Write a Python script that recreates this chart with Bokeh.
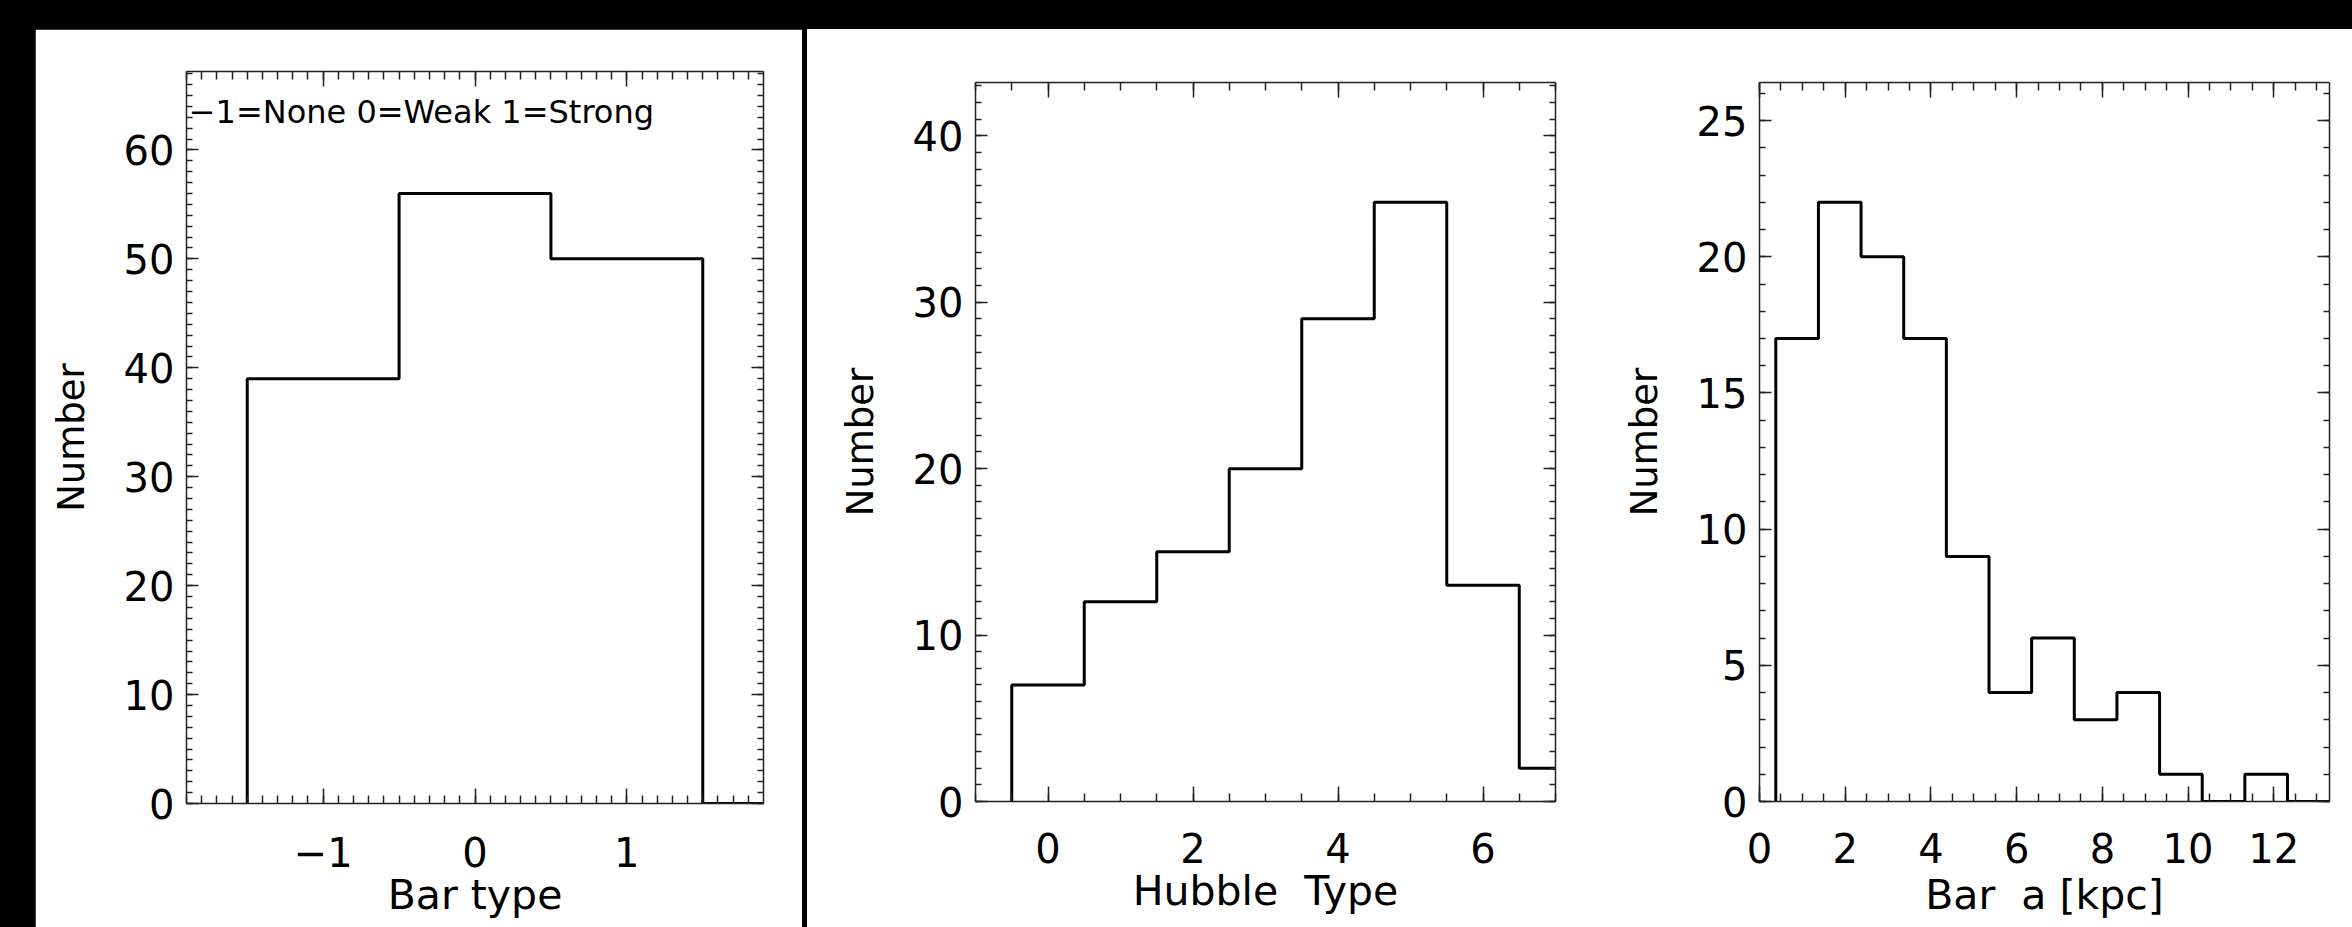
import numpy as np
from bokeh.plotting import figure
from bokeh.models import FixedTicker, LinearAxis, Range1d, Label
from bokeh.layouts import row
from bokeh.embed import file_html
from bokeh.resources import INLINE

# ---------------- data ----------------
# Panel 1: bar type histogram (-1=None, 0=Weak, 1=Strong)
bar_type_centers = [-1, 0, 1, 2]
bar_type_counts = [39, 56, 50, 0]
bar_type_binsize = 1.0

# Panel 2: Hubble type histogram
hubble_centers = [0, 1, 2, 3, 4, 5, 6, 7]
hubble_counts = [7, 12, 15, 20, 29, 36, 13, 2]
hubble_binsize = 1.0

# Panel 3: bar semi-major axis [kpc] histogram
bar_a_first_edge = 0.38
bar_a_binsize = 0.995
bar_a_counts = [17, 22, 20, 17, 9, 4, 6, 3, 4, 1, 0, 1, 0]

# axis ranges and ticks
p1_xrange = (-1.9, 1.9)
p1_yrange = (0, 67.2)
p1_xmajor = [-1, 0, 1]
p1_ymajor = [0, 10, 20, 30, 40, 50, 60]

p2_xrange = (-1.0, 7.0)
p2_yrange = (0, 43.2)
p2_xmajor = [0, 2, 4, 6]
p2_ymajor = [0, 10, 20, 30, 40]

p3_xrange = (0.0, 13.3)
p3_yrange = (0, 26.4)
p3_xmajor = [0, 2, 4, 6, 8, 10, 12]
p3_ymajor = [0, 5, 10, 15, 20, 25]

FONT = "DejaVu Sans"
NB = "\u00a0"


def outline(edges, counts):
    xs = [edges[0]]
    ys = [0]
    for i, c in enumerate(counts):
        xs += [edges[i], edges[i + 1]]
        ys += [c, c]
    return xs, ys


def minor(rng, step):
    return list(np.arange(rng[0] - step, rng[1] + step, step))


def style_axis(ax, horizontal, labels=True):
    ax.axis_line_color = "#222222"
    ax.axis_line_width = 1.5
    ax.major_tick_line_color = "#222222"
    ax.minor_tick_line_color = "#222222"
    ax.major_tick_line_width = 1.5
    ax.minor_tick_line_width = 1.5
    ax.major_tick_out = 0
    ax.minor_tick_out = 0
    if horizontal:
        ax.major_tick_in = 15
        ax.minor_tick_in = 8
    else:
        ax.major_tick_in = 12
        ax.minor_tick_in = 6
    ax.axis_label_text_font = FONT
    ax.axis_label_text_font_style = "normal"
    ax.axis_label_text_color = "black"
    ax.major_label_text_font = FONT
    if labels:
        ax.major_label_text_color = "black"
        ax.major_label_text_font_size = "40px"
        ax.axis_label_text_font_size = "41px" if horizontal else "37px"
    else:
        ax.major_label_text_color = None
        ax.major_label_text_font_size = "10px"
        ax.major_label_standoff = 0
        ax.axis_label = None


def make_panel(width, height, borders, xr, yr, xmajor, xstep, ymajor, ystep,
               xlabel, ylabel, label_standoff=32, title_standoff=-2,
               overrides=None):
    left, right, top, bottom = borders
    p = figure(width=width, height=height,
               x_range=Range1d(*xr), y_range=Range1d(*yr),
               output_backend="svg", toolbar_location=None,
               min_border_left=left, min_border_right=right,
               min_border_top=top, min_border_bottom=bottom)
    p.xgrid.visible = False
    p.ygrid.visible = False
    p.outline_line_color = None
    p.background_fill_color = "white"
    p.border_fill_color = "white"

    xt = FixedTicker(ticks=xmajor, minor_ticks=minor(xr, xstep))
    yt = FixedTicker(ticks=ymajor, minor_ticks=minor(yr, ystep))

    p.xaxis.ticker = xt
    p.yaxis.ticker = yt
    p.xaxis.axis_label = xlabel
    p.yaxis.axis_label = ylabel
    for ax in p.xaxis:
        style_axis(ax, True)
        ax.major_label_standoff = label_standoff
        ax.axis_label_standoff = title_standoff
        if overrides:
            ax.major_label_overrides = overrides
    for ax in p.yaxis:
        style_axis(ax, False)
        ax.major_label_standoff = 12
        ax.axis_label_standoff = 28

    top_ax = LinearAxis(ticker=xt)
    style_axis(top_ax, True, labels=False)
    p.add_layout(top_ax, "above")
    right_ax = LinearAxis(ticker=yt)
    style_axis(right_ax, False, labels=False)
    p.add_layout(right_ax, "right")
    return p


# ---------------- panel 1 ----------------
p1 = make_panel(767, 898, (151, 39, 42, 124), p1_xrange, p1_yrange,
                p1_xmajor, 0.1, p1_ymajor, 1, "Bar type", "Number",
                label_standoff=33, title_standoff=1,
                overrides={-1: "\u22121"})
e1 = [c - bar_type_binsize / 2 for c in bar_type_centers] + \
     [bar_type_centers[-1] + bar_type_binsize / 2]
x1, y1 = outline(e1, bar_type_counts)
p1.line(x1, y1, line_color="black", line_width=3)
p1.add_layout(Label(x=-1.885, y=63.5, text="\u22121=None 0=Weak 1=Strong",
                    text_font=FONT, text_font_size="32px",
                    text_baseline="middle", text_align="left",
                    text_color="black"))
p1.margin = (29, 0, 0, 35)

# ---------------- panel 2 ----------------
p2 = make_panel(763, 898, (168, 15, 53, 113), p2_xrange, p2_yrange,
                p2_xmajor, 0.5, p2_ymajor, 1, "Hubble " + NB + "Type", "Number",
                label_standoff=31, title_standoff=1)
e2 = [c - hubble_binsize / 2 for c in hubble_centers] + \
     [hubble_centers[-1] + hubble_binsize / 2]
x2, y2 = outline(e2, hubble_counts)
p2.line(x2, y2, line_color="black", line_width=3)

# ---------------- panel 3 ----------------
p3 = make_panel(782, 898, (189, 23, 49, 126), p3_xrange, p3_yrange,
                p3_xmajor, 0.5, p3_ymajor, 1, "Bar " + NB + "a [kpc]", "Number",
                label_standoff=31, title_standoff=5)
e3 = [bar_a_first_edge + i * bar_a_binsize for i in range(len(bar_a_counts) + 1)]
x3, y3 = outline(e3, bar_a_counts)
p3.line(x3, y3, line_color="black", line_width=3)

inner = row(p2, p3, spacing=0, styles={"background-color": "white"})
inner.margin = (29, 0, 0, 5)
layout = row(p1, inner, spacing=0, styles={"background-color": "black"})

open("out.html", "w").write(file_html(layout, INLINE))
